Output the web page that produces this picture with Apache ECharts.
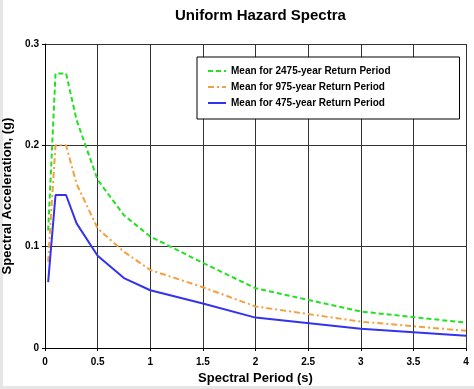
<!DOCTYPE html>
<html>
<head>
<meta charset="utf-8">
<script src="https://cdn.jsdelivr.net/npm/echarts@6/dist/echarts.min.js"></script>
<style>html,body{margin:0;padding:0;background:#fff;}#c{width:474px;height:389px;}</style>
</head>
<body>
<div id="c"></div>
<script>
var periods = [0.03, 0.05, 0.1, 0.2, 0.3, 0.5, 0.75, 1, 1.5, 2, 3, 4];
var mean2475 = [0.116, 0.16, 0.271, 0.271, 0.225, 0.166, 0.131, 0.110, 0.084, 0.059, 0.036, 0.025];
var mean975 = [0.085, 0.12, 0.2, 0.2, 0.162, 0.118, 0.095, 0.077, 0.060, 0.041, 0.026, 0.017];
var mean475 = [0.065, 0.09, 0.151, 0.151, 0.123, 0.091, 0.069, 0.057, 0.044, 0.030, 0.019, 0.012];
var seriesNames = ['Mean for 2475-year Return Period', 'Mean for 975-year Return Period', 'Mean for 475-year Return Period'];

function pairs(ys){ return periods.map(function(t,i){ return [t, ys[i]]; }); }

var chart = echarts.init(document.getElementById('c'));
var font = 'Arial, "Liberation Sans", sans-serif';
chart.setOption({
  backgroundColor: '#fff',
  animation: false,
  graphic: [
    {type: 'rect', left: 0, top: 0, shape: {width: 3, height: 389}, style: {fill: '#e6e6e6'}, silent: true},
    {type: 'rect', left: 0, top: 386, shape: {width: 474, height: 3}, style: {fill: '#e6e6e6'}, silent: true}
  ],
  title: {
    text: 'Uniform Hazard Spectra',
    left: 170, top: 3,
    textStyle: {fontFamily: font, fontSize: 15, fontWeight: 'bold', color: '#000'}
  },
  grid: {left: 45, right: 8, top: 44, bottom: 41, containLabel: false, outerBoundsMode: 'none'},
  legend: {
    orient: 'vertical', left: 197, top: 57,
    backgroundColor: '#fff', borderColor: '#000', borderWidth: 1,
    padding: [9, 69, 11, 10], itemGap: 6, itemWidth: 18, itemHeight: 10,
    itemStyle: {opacity: 0},
    textStyle: {fontFamily: font, fontSize: 10, fontWeight: 'bold', color: '#000'},
    data: seriesNames
  },
  xAxis: {
    type: 'value', min: 0, max: 4, interval: 0.5,
    name: 'Spectral Period (s)', nameLocation: 'middle', nameGap: 17,
    nameTextStyle: {fontFamily: font, fontSize: 13, fontWeight: 'bold', color: '#000'},
    axisLine: {lineStyle: {color: '#000'}},
    axisTick: {show: true, length: 3, lineStyle: {color: '#000'}},
    axisLabel: {fontFamily: font, fontSize: 10, fontWeight: 'bold', color: '#000', margin: 9},
    splitLine: {show: true, lineStyle: {color: '#333', width: 1}}
  },
  yAxis: {
    type: 'value', min: 0, max: 0.3, interval: 0.1,
    name: 'Spectral Acceleration, (g)', nameLocation: 'middle', nameGap: 21,
    nameTextStyle: {fontFamily: font, fontSize: 13, fontWeight: 'bold', color: '#000'},
    axisLine: {show: true, lineStyle: {color: '#000'}},
    axisTick: {show: true, length: 3, lineStyle: {color: '#000'}},
    axisLabel: {fontFamily: font, fontSize: 10, fontWeight: 'bold', color: '#000', margin: 6},
    splitLine: {show: true, lineStyle: {color: '#333', width: 1}}
  },
  series: [
    {name: seriesNames[0], type: 'line', data: pairs(mean2475), symbol: 'none',
     lineStyle: {color: '#22e022', width: 2, type: [5, 3]}, itemStyle: {color: '#22e022'}},
    {name: seriesNames[1], type: 'line', data: pairs(mean975), symbol: 'none',
     lineStyle: {color: '#f5a040', width: 2, type: [6, 3, 2, 3]}, itemStyle: {color: '#f5a040'}},
    {name: seriesNames[2], type: 'line', data: pairs(mean475), symbol: 'none',
     lineStyle: {color: '#3333ee', width: 2}, itemStyle: {color: '#3333ee'}}
  ]
});
</script>
</body>
</html>
